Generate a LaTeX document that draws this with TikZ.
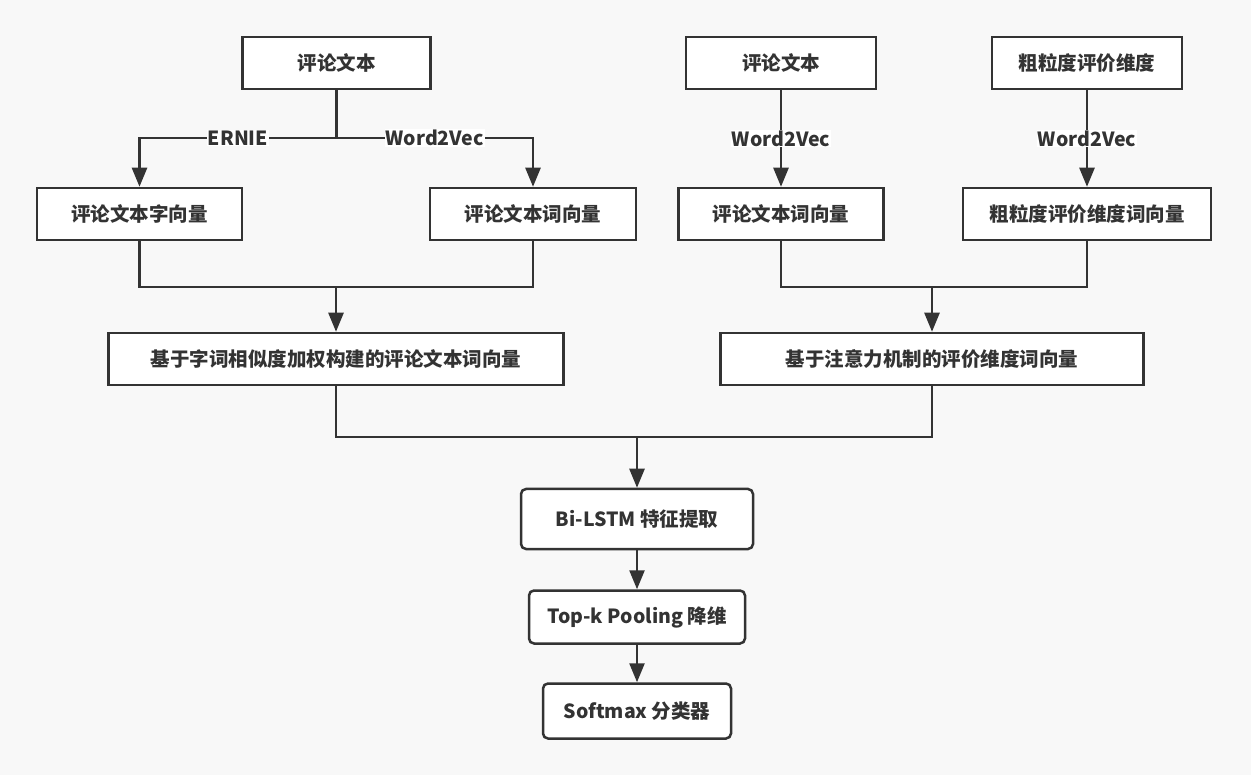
\documentclass[tikz,border=0pt]{standalone}
\usepackage{fontspec}
\setmainfont{Noto Sans CJK SC}
\usetikzlibrary{arrows.meta}
\definecolor{ink}{HTML}{333333}
\definecolor{canvas}{HTML}{F8F8F8}
\begin{document}
\begin{tikzpicture}[x=1pt,y=-1pt,
  box/.style={draw=ink,line width=2.5pt,fill=white,minimum height=52pt,inner sep=0pt,text=ink,font=\bfseries\fontsize{19.5}{21}\selectfont},
  rbox/.style={box,rounded corners=5pt},
  lbl/.style={fill=white,inner sep=1pt,text=ink,font=\bfseries\fontsize{19.5}{21}\selectfont},
  line/.style={draw=ink,line width=2.5pt},
  arr/.style={line,-{Triangle[length=19pt,width=15pt]}}]
  \fill[canvas] (0,0) rectangle (1251,775);
  \node[box,minimum width=188pt] (t1) at (336.5,63) {评论文本};
  \node[box,minimum width=190pt] (t2) at (781,63) {评论文本};
  \node[box,minimum width=190pt] (t3) at (1087,63) {粗粒度评价维度};
  \node[box,minimum width=205pt] (c1) at (139.5,214) {评论文本字向量};
  \node[box,minimum width=206pt] (c2) at (533,214) {评论文本词向量};
  \node[box,minimum width=205pt] (c3) at (781,214) {评论文本词向量};
  \node[box,minimum width=248pt] (c4) at (1087,214) {粗粒度评价维度词向量};
  \node[box,minimum width=455pt] (w1) at (336,359) {基于字词相似度加权构建的评论文本词向量};
  \node[box,minimum width=423pt] (w2) at (932,359) {基于注意力机制的评价维度词向量};
  \node[rbox,minimum width=232pt,minimum height=60pt] (b1) at (637,519) {Bi-LSTM 特征提取};
  \node[rbox,minimum width=216pt,minimum height=53pt] (b2) at (637,617) {Top-k Pooling 降维};
  \node[rbox,minimum width=188pt,minimum height=55pt] (b3) at (637,711) {Softmax 分类器};
  \coordinate (s1) at (336.5,138);
  \coordinate (m1) at (336,287);
  \coordinate (m2) at (932,287);
  \coordinate (m3) at (637,437);
  \draw[line] (t1.south) -- (s1);
  \draw[arr] (s1) -| (c1.north) node[lbl,pos=0.25] {ERNIE};
  \draw[arr] (s1) -| (c2.north) node[lbl,pos=0.25] {Word2Vec};
  \draw[arr] (t2) -- (c3) node[lbl,midway] {Word2Vec};
  \draw[arr] (t3) -- (c4) node[lbl,midway] {Word2Vec};
  \draw[line] (c1.south) |- (m1) -| (c2.south);
  \draw[arr] (m1) -- (w1.north);
  \draw[line] (c3.south) |- (m2) -| (c4.south);
  \draw[arr] (m2) -- (w2.north);
  \draw[line] (w1.south) |- (m3) -| (w2.south);
  \draw[arr] (m3) -- (b1.north);
  \draw[arr] (b1) -- (b2);
  \draw[arr] (b2) -- (b3);
\end{tikzpicture}
\end{document}
